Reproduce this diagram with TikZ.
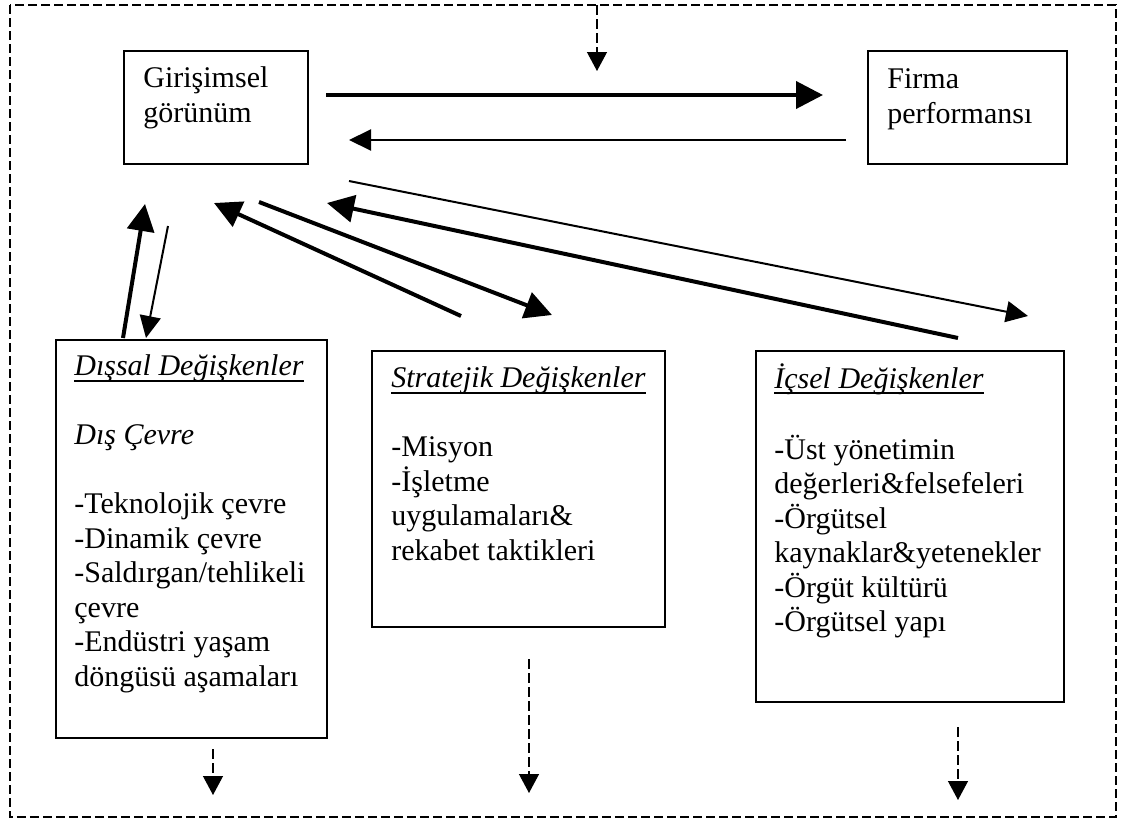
\documentclass[tikz,border=0pt]{standalone}
\usepackage{fontspec}
\setmainfont{Liberation Serif}
\usetikzlibrary{arrows.meta}

% underlined heading, rule close under the baseline
\newcommand{\uhead}[1]{\setbox0\hbox{#1}\rlap{\rule[-3pt]{\wd0}{0.9pt}}\box0}

\begin{document}
\begin{tikzpicture}[x=0.5pt, y=-0.5pt,
        every node/.style={font=\fontsize{15}{17.25}\selectfont},
        box/.style={draw, line width=0.75pt, inner sep=0pt, anchor=north west},
        txt/.style={inner sep=0pt, anchor=north west, align=left},
        bigarrow/.style={line width=2pt, -{Triangle[length=13.5pt, width=13.5pt]}},
        smallarrow/.style={line width=1pt, -{Triangle[length=11pt, width=10.5pt]}},
        dasharrow/.style={line width=0.65pt, dash pattern=on 5pt off 2pt, -{Triangle[length=9.5pt, width=10pt]}}]

        \useasboundingbox (0,0) rectangle (1126,819);
        \draw[line width=0.75pt, dash pattern=on 4.3pt off 2.2pt] (10,5) rectangle (1116,817);

        % boxes
        \node[box, minimum width=92pt, minimum height=56.5pt] (giri) at (123,50) {};
        \node[box, minimum width=99.5pt, minimum height=56.5pt] (firma) at (867,50) {};
        \node[box, minimum width=135.5pt, minimum height=199pt] (dis) at (55,339) {};
        \node[box, minimum width=146.5pt, minimum height=138pt] (str) at (371,350) {};
        \node[box, minimum width=154pt, minimum height=175.5pt] (ic) at (755,350) {};

        % texts (first line starts with a strut, so the top is fixed)
        \node[txt] (giritxt) at ([shift={(20,13)}]giri.north west) {\strut Girişimsel\\görünüm};
        \node[txt] (firmatxt) at ([shift={(20,14)}]firma.north west) {\strut Firma\\performansı};
        \node[txt] (distxt) at ([shift={(19,12)}]dis.north west)
            {\strut\uhead{\textit{Dışsal Değişkenler}}\\[17.25pt]\textit{Dış Çevre}\\[17.25pt]-Teknolojik çevre\\-Dinamik çevre\\-Saldırgan/tehlikeli\\çevre\\-Endüstri yaşam\\döngüsü aşamaları};
        \node[txt] (strtxt) at ([shift={(20,13)}]str.north west)
            {\strut\uhead{\textit{Stratejik Değişkenler}}\\[17.25pt]-Misyon\\-İşletme\\uygulamaları\&\\rekabet taktikleri};
        \node[txt] (ictxt) at ([shift={(19,13)}]ic.north west)
            {\strut\uhead{\textit{İçsel Değişkenler}}\\[17.25pt]-Üst yönetimin\\değerleri\&felsefeleri\\-Örgütsel\\kaynaklar\&yetenekler\\-Örgüt kültürü\\-Örgütsel yapı};

        % arrow ends
        \coordinate (fwda) at (326,95);
        \coordinate (fwdb) at (823,95);
        \coordinate (backa) at (846,140);
        \coordinate (backb) at (349,140);
        \coordinate (disup) at (123,338);
        \coordinate (disupend) at (145,204);
        \coordinate (disdn) at (168,226);
        \coordinate (disdnend) at (146,338);
        \coordinate (strup) at (461,316);
        \coordinate (strupend) at (214,203);
        \coordinate (strdn) at (259,202);
        \coordinate (strdnend) at (552,315);
        \coordinate (icup) at (958,338);
        \coordinate (icupend) at (327,203);
        \coordinate (icdn) at (349,181);
        \coordinate (icdnend) at (1028,316);

        \draw[bigarrow] (fwda) -- (fwdb);
        \draw[smallarrow] (backa) -- (backb);
        \draw[bigarrow] (disup) -- (disupend);
        \draw[smallarrow] (disdn) -- (disdnend);
        \draw[bigarrow] (strup) -- (strupend);
        \draw[bigarrow] (strdn) -- (strdnend);
        \draw[bigarrow] (icup) -- (icupend);
        \draw[smallarrow] (icdn) -- (icdnend);

        % dashed in/out arrows
        \coordinate (topin) at (597,5);
        \coordinate (topinend) at (597,71);
        \coordinate (disout) at (213,749);
        \coordinate (disoutend) at (213,795);
        \coordinate (strout) at (529,659);
        \coordinate (stroutend) at (529,793);
        \coordinate (icout) at (958,727);
        \coordinate (icoutend) at (958,800);

        \draw[dasharrow] (topin) -- (topinend);
        \draw[dasharrow] (disout) -- (disoutend);
        \draw[dasharrow] (strout) -- (stroutend);
        \draw[dasharrow] (icout) -- (icoutend);
\end{tikzpicture}
\end{document}
